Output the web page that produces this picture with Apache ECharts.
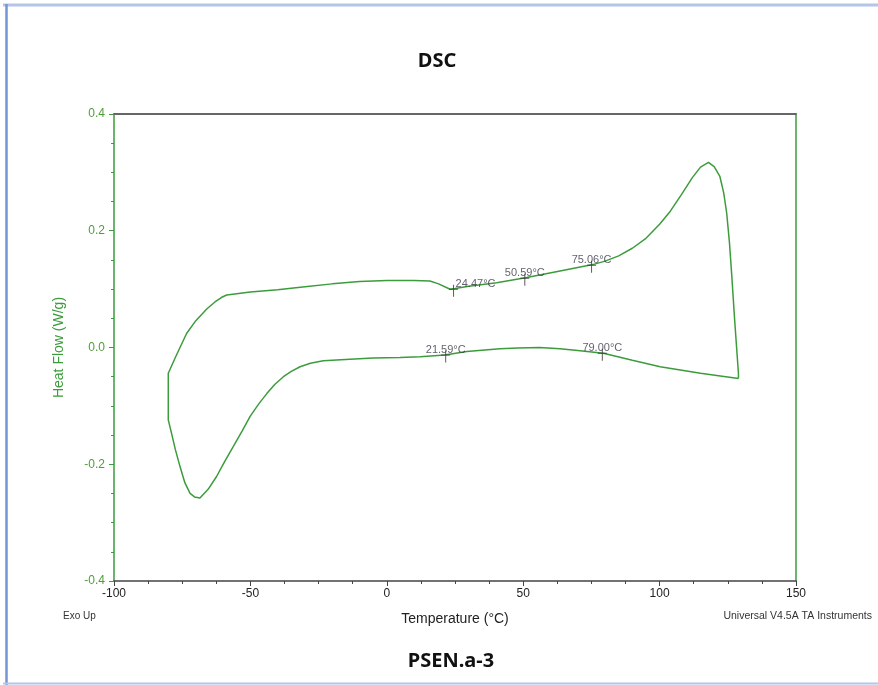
<!DOCTYPE html>
<html>
<head>
<meta charset="utf-8">
<script src="https://cdn.jsdelivr.net/npm/echarts@6/dist/echarts.min.js"></script>
<style>
html,body{margin:0;padding:0;background:#fff;}
#chart{width:878px;height:685px;}
</style>
</head>
<body>
<div id="chart"></div>
<script>
// Cooling segment (lower curve, right to left)
var coolT  = [128.9, 115, 100.2, 90, 79.4, 70, 63.5, 56, 48, 41.5, 29.3, 21.3, 12.2, 4.8, -5, -13.5, -23.3, -28, -31.8, -35, -37.9, -41, -44.0, -47, -50.1, -53, -56.3, -59.5, -62.4, -65.5, -68.5, -70.5, -72.1, -74, -75.8, -77.5, -78.9, -80.1];
var coolHF = [-0.053, -0.044, -0.033, -0.022, -0.010, -0.005, -0.002, 0.000, -0.001, -0.002, -0.007, -0.013, -0.016, -0.017, -0.018, -0.020, -0.0226, -0.027, -0.033, -0.041, -0.050, -0.063, -0.079, -0.097, -0.118, -0.143, -0.170, -0.196, -0.221, -0.243, -0.258, -0.256, -0.250, -0.232, -0.204, -0.175, -0.147, -0.124];
// Heating segment (upper curve, left to right)
var heatT  = [-80.1, -77.6, -73.4, -70, -66, -63, -60.5, -58.7, -50, -40, -30, -20, -10, 0, 10, 15.8, 19, 23.2, 25, 30, 40.3, 51.3, 63.5, 75.5, 80, 85, 90, 95, 100, 104, 108, 112, 115, 117.9, 120, 122.1, 123.5, 124.6, 125.6, 126.4, 127.6, 128.9, 128.9];
var heatHF = [-0.044, -0.018, 0.024, 0.046, 0.066, 0.078, 0.086, 0.090, 0.095, 0.099, 0.104, 0.109, 0.113, 0.1148, 0.1148, 0.114, 0.109, 0.0997, 0.101, 0.105, 0.111, 0.120, 0.131, 0.142, 0.148, 0.157, 0.170, 0.187, 0.211, 0.234, 0.262, 0.291, 0.309, 0.317, 0.310, 0.293, 0.265, 0.230, 0.180, 0.127, 0.041, -0.044, -0.053];
// Annotated transition points
var markT  = [24.47, 50.59, 75.06, 21.59, 79.00];
var markHF = [0.100, 0.1185, 0.141, -0.013, -0.010];
var markLabels = ['24.47°C', '50.59°C', '75.06°C', '21.59°C', '79.00°C'];
// Axis ticks
var xTicks = [-100, -50, 0, 50, 100, 150];
var yTicks = [-0.4, -0.2, 0.0, 0.2, 0.4];

var curve = [];
coolT.forEach(function (t, i) { curve.push([t, coolHF[i]]); });
heatT.forEach(function (t, i) { curve.push([t, heatHF[i]]); });

var marks = markT.map(function (t, i) {
  return {
    value: [t, markHF[i]],
    label: { offset: i === 0 ? [22, -7] : [0, -7] }
  };
});

var green = '#3c9c3c';
var labelGreen = '#4f9e3a';
var font = "'Liberation Sans', Arial, sans-serif";

var chart = echarts.init(document.getElementById('chart'), null, { renderer: 'canvas' });
chart.setOption({
  animation: false,
  backgroundColor: '#ffffff',
  title: [
    { text: 'DSC', left: 432, top: 46, textAlign: 'center',
      textStyle: { fontFamily: "'Noto Sans', sans-serif", fontWeight: 'bold', fontSize: 20, color: '#111' } },
    { text: 'PSEN.a-3', left: 446, top: 646, textAlign: 'center',
      textStyle: { fontFamily: "'Noto Sans', sans-serif", fontWeight: 'bold', fontSize: 20, color: '#111' } }
  ],
  graphic: [
    { type: 'line', shape: { x1: 3, y1: 5, x2: 878, y2: 5 }, style: { stroke: '#b3c6ea', lineWidth: 3 } },
    { type: 'line', shape: { x1: 6.5, y1: 4, x2: 6.5, y2: 685 }, style: { stroke: '#7395d6', lineWidth: 2.5 } },
    { type: 'line', shape: { x1: 3, y1: 683.5, x2: 878, y2: 683.5 }, style: { stroke: '#b3c6ea', lineWidth: 2 } },
    { type: 'text', left: 63, top: 611, style: { text: 'Exo Up', fontSize: 10, fontFamily: font, fill: '#333' } },
    { type: 'text', right: 6, top: 611, style: { text: 'Universal V4.5A TA Instruments', fontSize: 10.5, fontFamily: font, fill: '#333' } }
  ],
  grid: { left: 114, right: 82, top: 114, bottom: 104, containLabel: false },
  xAxis: [
    {
      type: 'value', min: xTicks[0], max: xTicks[xTicks.length - 1], interval: 50, position: 'bottom',
      axisLine: { show: true, onZero: false, lineStyle: { color: '#444', width: 1.5 } },
      axisTick: { show: true, length: 5, lineStyle: { color: '#444' } },
      minorTick: { show: true, splitNumber: 4, length: 3, lineStyle: { color: '#444' } },
      splitLine: { show: false }, minorSplitLine: { show: false },
      axisLabel: { color: '#222', fontSize: 12, fontFamily: font, margin: 7 },
      name: 'Temperature (°C)', nameLocation: 'middle', nameGap: 31,
      nameTextStyle: { color: '#222', fontSize: 14, fontFamily: font }
    },
    {
      type: 'value', min: xTicks[0], max: xTicks[xTicks.length - 1], position: 'top',
      axisLine: { show: true, onZero: false, lineStyle: { color: '#666', width: 2 } },
      axisTick: { show: false }, axisLabel: { show: false }, splitLine: { show: false }
    }
  ],
  yAxis: [
    {
      type: 'value', min: yTicks[0], max: yTicks[yTicks.length - 1], interval: 0.2, position: 'left',
      axisLine: { show: true, onZero: false, lineStyle: { color: green, width: 1.5 } },
      axisTick: { show: true, length: 5, lineStyle: { color: green } },
      minorTick: { show: true, splitNumber: 4, length: 3, lineStyle: { color: green } },
      splitLine: { show: false }, minorSplitLine: { show: false },
      axisLabel: { color: labelGreen, fontSize: 12, fontFamily: font, margin: 9,
        formatter: function (v) { return (Math.abs(v) < 1e-9 ? 0 : v).toFixed(1); } },
      name: 'Heat Flow (W/g)', nameLocation: 'middle', nameGap: 48, nameRotate: 90,
      nameTextStyle: { color: green, fontSize: 14, fontFamily: font }
    },
    {
      type: 'value', min: yTicks[0], max: yTicks[yTicks.length - 1], position: 'right',
      axisLine: { show: true, onZero: false, lineStyle: { color: green, width: 1.5 } },
      axisTick: { show: false }, axisLabel: { show: false }, splitLine: { show: false }
    }
  ],
  series: [
    {
      type: 'line', xAxisIndex: 0, yAxisIndex: 0, data: curve,
      showSymbol: false, smooth: false, silent: true,
      lineStyle: { color: green, width: 1.5 }
    },
    {
      type: 'scatter', xAxisIndex: 0, yAxisIndex: 0, data: marks, silent: true,
      symbol: 'path://M4,0h1v12h-1z M0,4h9v1h-9z', symbolSize: [9, 12], symbolOffset: [0, 1.5],
      itemStyle: { color: '#333' },
      label: {
        show: true, position: 'inside', fontSize: 11, fontFamily: font, color: '#3a3a48',
        formatter: function (p) { return markLabels[p.dataIndex]; }
      },
      z: 5
    }
  ]
});
</script>
</body>
</html>
